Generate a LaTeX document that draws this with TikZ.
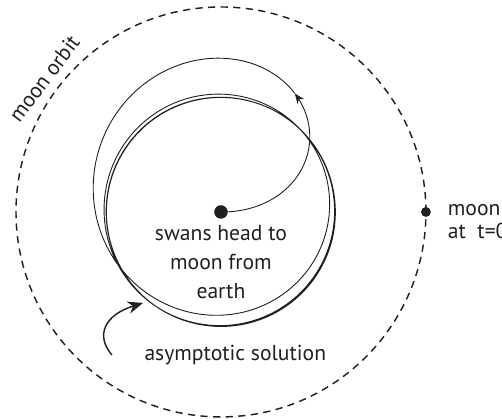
\documentclass[tikz,border=0pt]{standalone}
\usepackage{fontspec}
\setmainfont{PT Sans}
\usetikzlibrary{arrows.meta,positioning}
\definecolor{ink}{HTML}{231F20}
\newcommand{\swanspeed}{0.56}
\newcommand{\swanstep}{0.02}
\newcommand{\arrowstep}{77}

\begin{document}
\begin{tikzpicture}[
  x=4cm,y=4cm,
  every node/.style={font=\fontsize{12}{16}\selectfont,text=ink,align=center},
  orbit/.style={draw=ink,line width=0.8pt,dash pattern=on 4pt off 3pt},
  swan/.style={draw=ink,line width=0.5pt,line join=round},
  dot/.style={circle,fill=ink,inner sep=0pt},
  pointer/.style={-{Stealth[length=3mm,width=2.4mm]},line width=0.8pt,draw=ink}
]
\useasboundingbox (-1.078,-1.010) rectangle (1.371,1.034);
\draw[orbit] (0,0) circle[radius=1];
\node[dot,minimum size=7.5pt] (earth) at (0,0) {};
\node[dot,minimum size=5.5pt] (moon) at (1,0) {};
\def\swx{0}\def\swy{0}\def\legA{}\def\legB{}
\foreach \i in {1,...,1300}{
  \pgfmathsetmacro\mnx{cos(deg((\i-1)*\swanstep))}
  \pgfmathsetmacro\mny{sin(deg((\i-1)*\swanstep))}
  \pgfmathsetmacro\gap{veclen(\mnx-\swx,\mny-\swy)}
  \pgfmathsetmacro\nwx{\swx+\swanspeed*\swanstep*(\mnx-\swx)/\gap}
  \pgfmathsetmacro\nwy{\swy+\swanspeed*\swanstep*(\mny-\swy)/\gap}
  \global\let\swx\nwx \global\let\swy\nwy
  \ifnum\i>\arrowstep\else\xdef\legA{\legA -- (\swx,\swy)}\fi
  \ifnum\i>\arrowstep\xdef\legB{\legB -- (\swx,\swy)}\fi
  \ifnum\i=\arrowstep\xdef\legB{(\swx,\swy)}\fi
}
\draw[swan,-{Stealth[length=2mm,width=1.6mm]}] (earth.center) \legA;
\draw[swan] \legB;
\node[below=0pt of earth] (head) {swans head to\\moon from\\earth};
\node[right=2mm of moon,yshift=-5.4pt,align=left,font=\fontsize{12}{12.5}\selectfont] (moonlbl) {moon\\at~ t=0};
\node[rotate=53] (orbitlbl) at (143:1.08) {moon orbit};
\node (asym) at (0.07,-0.70) {asymptotic solution};
\coordinate (tail) at (-0.532,-0.698);
\coordinate (tip) at (-0.380,-0.444);
\draw[pointer] (tail) .. controls (-0.615,-0.600) and (-0.566,-0.502) .. (tip);
\end{tikzpicture}
\end{document}
